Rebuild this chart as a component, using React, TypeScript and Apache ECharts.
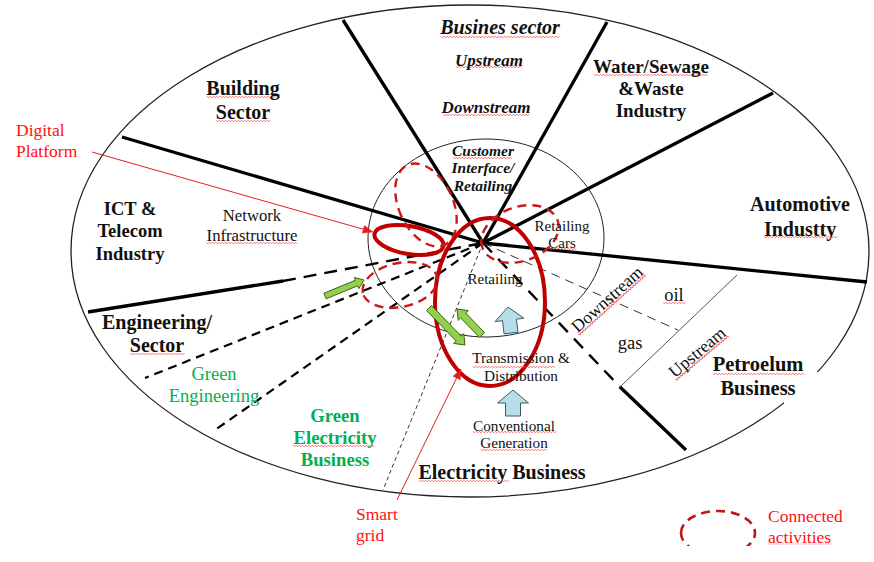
import React, { useEffect, useRef } from "react";
import * as echarts from "echarts";

// ---------- content (texts) ----------
const sectorNames = [
  "Busines sector",
  "Building\nSector",
  "Water/Sewage\n&Waste\nIndustry",
  "Automotive\nIndustty",
  "ICT &\nTelecom\nIndustry",
  "Engineering/\nSector",
  "Electricity Business",
  "Petroelum\nBusiness",
];
const businessSubLabels = ["Upstream", "Downstream", "Customer\nInterface/\nRetailing"];
const activityLabels = [
  "Network\nInfrastructure",
  "Retailing\nCars",
  "Retailing",
  "Transmission &\nDistribution",
  "Conventional\nGeneration",
  "oil",
  "gas",
];
const rotatedLabels = ["Downstream", "Upstream"];
const greenLabels = ["Green\nEngineering", "Green\nElectricity\nBusiness"];
const annotationLabels = ["Digital\nPlatform", "Smart\ngrid", "Connected\nactivities"];

// ---------- layout ----------
const HUB: [number, number] = [483, 243];
const OUTER = { cx: 470, cy: 251, rx: 399, ry: 246 };
const INNER = { cx: 486, cy: 238, rx: 118, ry: 99 };
const thickSpokeEnds: [number, number][] = [
  [343, 20],
  [122, 137],
  [607, 22],
  [773, 93],
  [867, 282],
];

const SERIF = "Liberation Serif";
const RED = "#ff1010";
const DARKRED = "#c00000";
const GREEN = "#00b050";

function txt(text: string, x: number, y: number, o: any = {}) {
  const align = o.align || "center";
  const size = o.size || 16;
  const font = `${o.italic ? "italic " : ""}${o.bold ? "bold " : ""}${size}px ${SERIF}`;
  return {
    type: "text",
    x,
    y,
    z: 50,
    style: {
      text,
      fill: o.color || "#111",
      font,
      textFont: font,
      textAlign: align,
      textVerticalAlign: "middle",
      textLineHeight: o.lh || Math.round(size * 1.2),
      lineHeight: o.lh || Math.round(size * 1.2),
    },
  };
}

function squiggle(x1: number, x2: number, y: number, color = "#ff4848") {
  const pts: number[][] = [];
  let up = true;
  for (let x = x1; x <= x2; x += 1.6) {
    pts.push([x, y + (up ? -0.8 : 0.8)]);
    up = !up;
  }
  return { type: "polyline", z: 49, shape: { points: pts }, style: { stroke: color, lineWidth: 0.8, fill: null } };
}

function line(a: number[], b: number[], w: number, dash?: number[], color = "#000") {
  return {
    type: "line",
    z: 10,
    shape: { x1: a[0], y1: a[1], x2: b[0], y2: b[1] },
    style: { stroke: color, lineWidth: w, lineDash: dash || null, lineCap: "butt" },
  };
}

function ell(cx: number, cy: number, rx: number, ry: number, rotDeg: number, stroke: string, w: number, dash?: number[], z = 30) {
  return {
    type: "ellipse",
    x: cx,
    y: cy,
    rotation: (rotDeg * Math.PI) / 180,
    z,
    shape: { cx: 0, cy: 0, rx, ry },
    style: { stroke, lineWidth: w, fill: null, lineDash: dash || null },
  };
}

function blockArrow(t: number[], h: number[], sw: number, hw: number, hl: number, fill: string, stroke: string) {
  const dx = h[0] - t[0];
  const dy = h[1] - t[1];
  const len = Math.hypot(dx, dy);
  const ux = dx / len, uy = dy / len;
  const nx = -uy, ny = ux;
  const neck = [h[0] - ux * hl, h[1] - uy * hl];
  const pts = [
    [t[0] + nx * sw / 2, t[1] + ny * sw / 2],
    [neck[0] + nx * sw / 2, neck[1] + ny * sw / 2],
    [neck[0] + nx * hw / 2, neck[1] + ny * hw / 2],
    [h[0], h[1]],
    [neck[0] - nx * hw / 2, neck[1] - ny * hw / 2],
    [neck[0] - nx * sw / 2, neck[1] - ny * sw / 2],
    [t[0] - nx * sw / 2, t[1] - ny * sw / 2],
  ];
  return { type: "polygon", z: 40, shape: { points: pts }, style: { fill, stroke, lineWidth: 1 } };
}

function thinArrow(t: number[], h: number[], color: string) {
  const dx = h[0] - t[0];
  const dy = h[1] - t[1];
  const len = Math.hypot(dx, dy);
  const ux = dx / len, uy = dy / len;
  const nx = -uy, ny = ux;
  const hl = 10, hw = 8;
  const base = [h[0] - ux * hl, h[1] - uy * hl];
  return [
    { type: "line", z: 45, shape: { x1: t[0], y1: t[1], x2: base[0], y2: base[1] }, style: { stroke: color, lineWidth: 1 } },
    {
      type: "polygon",
      z: 45,
      shape: { points: [[h[0], h[1]], [base[0] + nx * hw / 2, base[1] + ny * hw / 2], [base[0] - nx * hw / 2, base[1] - ny * hw / 2]] },
      style: { fill: color, stroke: color, lineWidth: 0.5 },
    },
  ];
}

function buildGraphics() {
  const els: any[] = [];
  // outer / inner ellipses
  els.push(ell(OUTER.cx, OUTER.cy, OUTER.rx, OUTER.ry, 0, "#222", 1.3, undefined, 5));
  els.push({ type: "rect", z: 6, shape: { x: 784, y: 372, width: 40, height: 32 }, style: { fill: "#fff" } });
  els.push(ell(INNER.cx, INNER.cy, INNER.rx, INNER.ry, 0, "#222", 1, undefined, 8));

  // thick spokes
  thickSpokeEnds.forEach((p) => els.push(line(HUB, p, 3.3)));
  // ICT / Engineering divider
  els.push(line([88, 312], [283, 281], 3.3));
  els.push(line([283, 281], HUB, 2.4, [13, 8]));
  // Electricity / Petroleum divider
  els.push(line(HUB, [620, 387], 2.4, [13, 9]));
  els.push(line([620, 387], [686, 450], 3.3));
  // dashed engineering lines
  els.push(line(HUB, [145, 378], 2.2, [9, 6]));
  els.push(line(HUB, [215, 430], 2.2, [9, 6]));
  // thin dashed
  els.push(line(HUB, [383, 490], 1, [4, 3], "#333"));
  els.push(line(HUB, [678, 330], 1, [9, 6], "#333"));
  // thin solid upstream separator
  els.push(line([621, 386], [737, 275], 1, undefined, "#555"));

  // texts: sectors
  els.push(txt(sectorNames[0], 500, 27, { bold: true, italic: true, size: 20 }));
  els.push(squiggle(441, 560, 37));
  els.push(txt(sectorNames[1], 243, 100, { bold: true, size: 20, lh: 24 }));
  els.push(squiggle(207, 280, 97));
  els.push(squiggle(216, 271, 121));
  els.push(txt(sectorNames[2], 651, 88, { bold: true, size: 19, lh: 22 }));
  els.push(squiggle(594, 708, 75));
  els.push(txt(sectorNames[3], 800, 216, { bold: true, size: 20, lh: 25 }));
  els.push(squiggle(764, 838, 237));
  els.push(txt(sectorNames[4], 130, 231, { bold: true, size: 18.5, lh: 22.5 }));
  els.push(txt(sectorNames[5], 157, 333, { bold: true, size: 20, lh: 23 }));
  els.push(squiggle(130, 185, 354));
  els.push(txt(sectorNames[6], 502, 472, { bold: true, size: 20 }));
  els.push(squiggle(419, 510, 481));
  els.push(txt(sectorNames[7], 758, 376, { bold: true, size: 20.5, lh: 24 }));
  els.push(squiggle(713, 805, 374));

  // business sub labels
  els.push(txt(businessSubLabels[0], 489, 60, { bold: true, italic: true, size: 17 }));
  els.push(squiggle(456, 522, 67));
  els.push(txt(businessSubLabels[1], 486, 107, { bold: true, italic: true, size: 17 }));
  els.push(squiggle(443, 530, 115));
  els.push(txt(businessSubLabels[2], 483, 167.5, { bold: true, italic: true, size: 15.5, lh: 17.5 }));
  els.push(squiggle(453, 513, 158));

  // activity labels
  els.push(txt(activityLabels[0], 252, 225, { size: 16.7, lh: 20 }));
  els.push(squiggle(206, 298, 243));
  els.push(txt(activityLabels[1], 562, 234, { size: 15, lh: 17 }));
  els.push(squiggle(549, 577, 249));
  els.push(txt(activityLabels[2], 495, 279, { size: 15 }));
  els.push(txt(activityLabels[3], 521, 366, { size: 15.3, lh: 18 }));
  els.push(squiggle(473, 556, 367));
  els.push(txt(activityLabels[4], 514, 433.5, { size: 15.2, lh: 17 }));
  els.push(squiggle(473, 557, 432));
  els.push(squiggle(481, 548, 450));
  els.push(txt(activityLabels[5], 674, 295, { size: 18.5 }));
  els.push(squiggle(663, 686, 303));
  els.push(txt(activityLabels[6], 630, 343, { size: 18.5 }));

  // rotated labels
  const rot = [
    { x: 607, y: 299, deg: 42, size: 17.5, w: 90 },
    { x: 697, y: 352, deg: 40, size: 17.5, w: 69 },
  ];
  rotatedLabels.forEach((t, i) => {
    const r = rot[i];
    const sq: number[][] = [];
    let up = true;
    for (let x = -r.w / 2; x <= r.w / 2; x += 1.6) {
      sq.push([x, 8 + (up ? -0.8 : 0.8)]);
      up = !up;
    }
    els.push({
      type: "group",
      x: r.x,
      y: r.y,
      rotation: (r.deg * Math.PI) / 180,
      z: 50,
      children: [
        txt(t, 0, 0, { size: r.size }),
        { type: "polyline", z: 49, shape: { points: sq }, style: { stroke: "#ff4848", lineWidth: 0.8, fill: null } },
      ],
    });
  });

  // green labels
  els.push(txt(greenLabels[0], 214, 385, { size: 18.5, lh: 22, color: GREEN }));
  els.push(txt(greenLabels[1], 335, 437, { size: 18.7, lh: 22, bold: true, color: GREEN }));
  els.push(squiggle(293, 376, 446));

  // annotations
  els.push(txt(annotationLabels[0], 16, 140.5, { size: 17.5, lh: 21, color: RED, align: "left" }));
  els.push(txt(annotationLabels[1], 356, 524.5, { size: 17.5, lh: 21, color: RED, align: "left" }));
  els.push(txt(annotationLabels[2], 768, 526.5, { size: 17.5, lh: 21, color: RED, align: "left" }));
  // dotted underline under "activities"
  els.push({ type: "line", z: 49, shape: { x1: 768, y1: 544, x2: 833, y2: 544 }, style: { stroke: "#ff4040", lineWidth: 0.8, lineDash: [1, 1.5] } });

  // red thin arrows
  thinArrow([92, 152], [373, 232], "#e02020").forEach((e) => els.push(e));
  thinArrow([397, 500], [461, 369], "#e02020").forEach((e) => els.push(e));

  // red ellipses (connected activities)
  const dash = [9, 6];
  els.push(ell(409, 240, 35, 14, -10, DARKRED, 4));
  els.push(ell(490, 302, 55, 84, 0, DARKRED, 4));
  els.push(ell(426, 205, 27, 44, 25, "#cc1818", 2.4, dash));
  els.push(ell(520, 234, 40, 27, 20, "#cc1818", 2.4, dash));
  els.push(ell(400, 285, 38, 22, 12, "#cc1818", 2.4, dash));
  // legend
  els.push(ell(718, 533, 37, 22, 0, "#c01818", 2.6, dash, 30));
  els.push({ type: "rect", z: 35, shape: { x: 670, y: 546, width: 100, height: 20 }, style: { fill: "#fff" } });

  // green arrows
  const gFill = "#92d050", gStroke = "#3f6212";
  els.push(blockArrow([325, 296], [364, 280], 6, 12, 8, gFill, gStroke));
  els.push(blockArrow([429, 308], [465, 345], 7, 14, 9, gFill, gStroke));
  els.push(blockArrow([482, 335], [457, 309], 7, 14, 9, gFill, gStroke));
  // blue block arrows
  const bFill = "#b7dde8", bStroke = "#3c5a66";
  els.push(blockArrow([511, 333], [508, 307], 14, 29, 13, bFill, bStroke));
  els.push(blockArrow([513, 416], [513, 390], 15, 31, 13, bFill, bStroke));

  return els;
}

export default function App() {
  const ref = useRef<HTMLDivElement>(null);
  useEffect(() => {
    if (!ref.current) return;
    const chart = echarts.init(ref.current, undefined, { renderer: "svg" });
    chart.setOption({
      animation: false,
      backgroundColor: "#ffffff",
      graphic: { elements: buildGraphics() },
    });
    return () => chart.dispose();
  }, []);
  return (
    <div
      ref={ref}
      style={{ position: "fixed", left: 0, top: 0, width: 874, height: 562, background: "#fff" }}
    />
  );
}
